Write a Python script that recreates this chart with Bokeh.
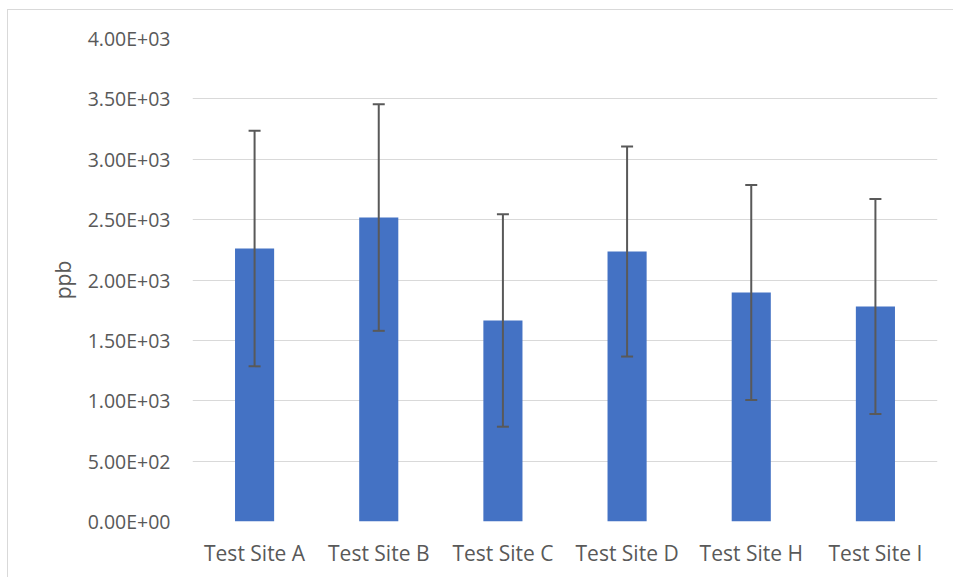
from bokeh.plotting import figure
from bokeh.models import ColumnDataSource, Whisker, TeeHead, FixedTicker, Range1d
from bokeh.embed import file_html
from bokeh.resources import INLINE

# ---- data ----
sites = ["Test Site A", "Test Site B", "Test Site C", "Test Site D", "Test Site H", "Test Site I"]
means = [2260, 2517, 1665, 2236, 1896, 1780]
errors = [975, 938, 880, 870, 890, 890]
tick_values = [0, 500, 1000, 1500, 2000, 2500, 3000, 3500, 4000]
tick_labels = ["0.00E+00", "5.00E+02", "1.00E+03", "1.50E+03", "2.00E+03",
               "2.50E+03", "3.00E+03", "3.50E+03", "4.00E+03"]
y_label = "ppb"

FONT = "Open Sans"
TXT = "#595959"

src = ColumnDataSource(dict(
    site=sites, mean=means,
    upper=[m + e for m, e in zip(means, errors)],
    lower=[m - e for m, e in zip(means, errors)],
))

p = figure(x_range=sites, y_range=Range1d(0, 4000), width=946, height=568,
           output_backend="svg", toolbar_location=None,
           min_border_left=184, min_border_top=28, min_border_right=17, min_border_bottom=57)
p.styles = {"margin-left": "7px", "margin-top": "9px",
            "border-left": "1px solid #d9d9d9", "border-top": "1px solid #d9d9d9"}

p.vbar(x="site", top="mean", width=0.315, source=src, fill_color="#4472C4", line_color=None)

w = Whisker(base="site", upper="upper", lower="lower", source=src,
            line_color="#595959", line_width=2, level="overlay",
            upper_head=TeeHead(size=12, line_color="#595959", line_width=2),
            lower_head=TeeHead(size=12, line_color="#595959", line_width=2))
p.add_layout(w)

p.outline_line_color = None
p.xgrid.grid_line_color = None
p.ygrid.grid_line_color = "#d9d9d9"
p.ygrid.grid_line_width = 1

p.yaxis.ticker = FixedTicker(ticks=tick_values)
p.yaxis.major_label_overrides = {v: s for v, s in zip(tick_values, tick_labels)}
p.yaxis.axis_label = y_label

for ax in (p.xaxis, p.yaxis):
    ax.axis_line_color = None
    ax.major_tick_line_color = None
    ax.minor_tick_line_color = None
    ax.major_tick_out = 0
    ax.major_tick_in = 0
    ax.major_label_text_font = FONT
    ax.major_label_text_color = TXT
    ax.axis_label_text_font = FONT
    ax.axis_label_text_color = TXT
    ax.axis_label_text_font_style = "normal"

p.yaxis.major_label_text_font_size = "19.5px"
p.xaxis.major_label_text_font_size = "21px"
p.yaxis.axis_label_text_font_size = "21px"
p.yaxis.major_label_standoff = 22
p.yaxis.axis_label_standoff = 8
p.xaxis.major_label_standoff = 17

open("out.html", "w").write(file_html(p, INLINE))
